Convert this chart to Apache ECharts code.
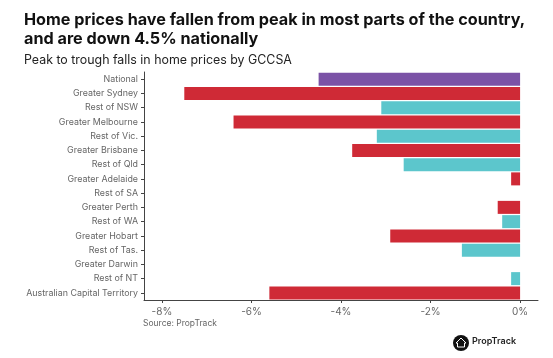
<!DOCTYPE html>
<html>
<head>
<meta charset="utf-8">
<style>
html, body { margin: 0; padding: 0; background: #fff; }
#chart { width: 553px; height: 358px; }
</style>
<script src="https://cdn.jsdelivr.net/npm/echarts@6/dist/echarts.min.js"></script>
</head>
<body>
<div id="chart"></div>
<script>
var regions = ['National', 'Greater Sydney', 'Rest of NSW', 'Greater Melbourne', 'Rest of Vic.', 'Greater Brisbane', 'Rest of Qld', 'Greater Adelaide', 'Rest of SA', 'Greater Perth', 'Rest of WA', 'Greater Hobart', 'Rest of Tas.', 'Greater Darwin', 'Rest of NT', 'Australian Capital Territory'];
var falls = [-4.5, -7.5, -3.1, -6.4, -3.2, -3.75, -2.6, -0.2, 0, -0.5, -0.4, -2.9, -1.3, 0, -0.2, -5.6];
var kinds = ['national', 'city', 'rest', 'city', 'rest', 'city', 'rest', 'city', 'rest', 'city', 'rest', 'city', 'rest', 'city', 'rest', 'city'];
var xTicks = [-8, -6, -4, -2, 0];
var colours = { national: '#7b52a6', city: '#cf2a36', rest: '#5cc6cc' };

var myChart = echarts.init(document.getElementById('chart'), null, { renderer: 'canvas' });
var font = 'Inter, "Noto Sans", sans-serif';

var option = {
    animation: false,
    backgroundColor: '#fff',
    textStyle: { fontFamily: font },
    title: [
        {
            text: 'Home prices have fallen from peak in most parts of the country,\nand are down 4.5% nationally',
            left: 19, top: 6,
            textStyle: { fontFamily: font, fontSize: 16.2, fontWeight: 700, color: '#111', lineHeight: 19 }
        },
        {
            text: 'Peak to trough falls in home prices by GCCSA',
            left: 19, top: 49,
            textStyle: { fontFamily: font, fontSize: 12.4, fontWeight: 400, color: '#222' }
        },
        {
            text: 'Source: PropTrack',
            left: 138, top: 314,
            textStyle: { fontFamily: font, fontSize: 8.5, fontWeight: 400, color: '#666' }
        }
    ],
    grid: { left: 144, top: 72, width: 394, height: 228, containLabel: false },
    xAxis: {
        type: 'value',
        min: -8.4,
        max: 0.4,
        splitLine: { show: false },
        axisLine: { show: true, onZero: false, lineStyle: { color: '#444', width: 1 } },
        axisTick: { show: true, length: 3, customValues: xTicks, lineStyle: { color: '#444' } },
        axisLabel: {
            customValues: xTicks,
            color: '#666',
            fontSize: 10,
            margin: 7,
            formatter: function (v) { return v + '%'; }
        }
    },
    yAxis: {
        type: 'category',
        inverse: true,
        data: regions,
        position: 'left',
        axisLine: { show: true, onZero: false, lineStyle: { color: '#444', width: 1 } },
        axisTick: { show: true, length: 3, alignWithLabel: true, lineStyle: { color: '#444' } },
        axisLabel: { color: '#666', fontSize: 8.9, margin: 6 }
    },
    series: [{
        type: 'bar',
        barWidth: 13,
        data: falls,
        itemStyle: {
            color: function (p) { return colours[kinds[p.dataIndex]]; }
        }
    }],
    graphic: [
        { type: 'circle', shape: { cx: 461, cy: 343, r: 8 }, style: { fill: '#111' } },
        { type: 'polygon', shape: { points: [[461, 338], [466, 343], [464.5, 343], [464.5, 347], [457.5, 347], [457.5, 343], [456, 343]] }, style: { fill: 'none', stroke: '#fff', lineWidth: 1 } },
        { type: 'text', left: 472, top: 337, style: { text: 'PropTrack', fontFamily: font, fontSize: 9, fontWeight: 600, fill: '#222' } }
    ]
};
myChart.setOption(option);
</script>
</body>
</html>
